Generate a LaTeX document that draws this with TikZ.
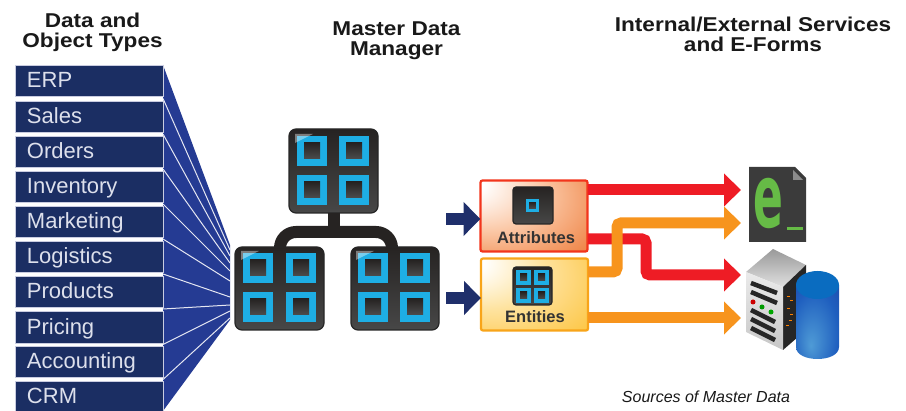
\documentclass[tikz,border=0pt]{standalone}
\usepackage{fontspec}
\setmainfont{Liberation Sans}
\newfontfamily\efont{DejaVu Sans}
\usetikzlibrary{arrows.meta}
\definecolor{rowblue}{HTML}{1B2E63}
\definecolor{fanblue}{HTML}{253B93}
\definecolor{rowtext}{HTML}{DDE0EC}
\definecolor{rowedge}{HTML}{C9CCE0}
\definecolor{tileblue}{HTML}{1EAEE4}
\definecolor{unitdark}{HTML}{262322}
\definecolor{navyarrow}{HTML}{1F2F6B}
\definecolor{redflow}{HTML}{EE1C25}
\definecolor{orangeflow}{HTML}{F7941D}
\definecolor{docgray}{HTML}{3B3B3B}
\definecolor{egreen}{HTML}{66BB46}
\definecolor{aone}{HTML}{FBC9A8}
\definecolor{atwo}{HTML}{F08A4E}
\definecolor{athree}{HTML}{E8531F}
\definecolor{eone}{HTML}{FEE3A0}
\definecolor{etwo}{HTML}{FDC94E}
\definecolor{ethree}{HTML}{FDB913}
\definecolor{cylone}{HTML}{4F9BD6}
\definecolor{cyltwo}{HTML}{1F5FBF}
\definecolor{cylthree}{HTML}{1C3A9A}
\definecolor{cyltop}{HTML}{0A6CC0}
\pgfdeclareradialshading{attrfill}{\pgfpoint{-36bp}{26bp}}{color(0bp)=(white); color(8bp)=(white); color(26bp)=(aone); color(46bp)=(atwo); color(68bp)=(athree)}
\pgfdeclareradialshading{entfill}{\pgfpoint{-36bp}{26bp}}{color(0bp)=(white); color(8bp)=(white); color(26bp)=(eone); color(46bp)=(etwo); color(68bp)=(ethree)}
\pgfdeclareradialshading{cylfill}{\pgfpoint{-8bp}{-14bp}}{color(0bp)=(cylone); color(28bp)=(cyltwo); color(55bp)=(cylthree)}
\tikzset{
  rowbox/.style={draw=rowedge,line width=0.8pt,fill=rowblue,text=rowtext,anchor=north west,
    minimum width=148pt,inner sep=0pt,outer sep=0pt,align=left,text width=124pt,
    font=\fontsize{22}{22}\selectfont,text height=15pt,text depth=0pt},
  fanline/.style={draw=white!88!fanblue,line width=1pt},
  heading/.style={font=\fontsize{20}{20}\selectfont\bfseries,align=center,text=black!90,inner sep=0pt},
  unit/.style={draw=black!85,line width=1.2pt,top color=unitdark,bottom color=black!72,rounded corners=7pt,inner sep=0pt,outer sep=0pt},
  tile/.style={fill=tileblue},
  tilecore/.style={top color=unitdark,bottom color=black!70},
  link/.style={draw=unitdark,line width=12pt},
  inarrow/.style={draw=navyarrow,line width=12pt,-{Triangle[length=17pt,width=33pt]}},
  redflowline/.style={draw=redflow,line width=11pt,rounded corners=4pt,-{Triangle[length=17pt,width=32pt]}},
  orangeflowline/.style={draw=orangeflow,line width=11pt,rounded corners=4pt,-{Triangle[length=17pt,width=32pt]}},
  attrbox/.style={draw=redflow!75!orange,line width=2.2pt,shading=attrfill,rounded corners=2pt,minimum width=107pt,minimum height=71pt,inner sep=0pt,outer sep=0pt},
  entbox/.style={draw=orangeflow!85!yellow,line width=2.2pt,shading=entfill,rounded corners=2pt,minimum width=107pt,minimum height=72pt,inner sep=0pt,outer sep=0pt},
  boxlabel/.style={font=\fontsize{16.5}{16.5}\selectfont\bfseries,text=black!80,inner sep=0pt},
  docbody/.style={fill=docgray},
  slot/.style={draw=black!85,line width=4.5pt},
}
\newcommand{\wideline}[1]{\scalebox{1.13}[1]{#1}}
% one blue tile with its dark centre; #1,#2 top-left corner, #3 size, #4 inset
\newcommand{\gridtile}[4]{%
  \fill[tile] (#1,#2) rectangle ++(#3,#3);
  \shade[tilecore] (#1+#4,#2+#4) rectangle (#1+#3-#4,#2+#3-#4);}
\newcommand{\gloss}[2]{\fill[white,opacity=.4] (#1,#2) -- ++(18,0) -- ++(-18,9) -- cycle;}
\begin{document}
\begin{tikzpicture}[x=1pt,y=-1pt]
\useasboundingbox (0,0) rectangle (906,411);
% titles
\node[heading] (t1) at (92.5,32) {\wideline{Data and}\\\wideline{Object Types}};
\node[heading] (t2) at (396.5,41) {\wideline{Master Data}\\\wideline{Manager}};
\node[heading] (t3) at (753,34) {\wideline{Internal/External Services}\\\wideline{and E-Forms}};
% fan
\fill[fanblue] (163,65) -- (230,245) -- (230,320) -- (163,411) -- cycle;
% rows
\node[rowbox,minimum height=31pt] (r1) at (15,65) {ERP};
\node[rowbox,minimum height=31pt] (r2) at (15,101) {Sales};
\node[rowbox,minimum height=31pt] (r3) at (15,136) {Orders};
\node[rowbox,minimum height=31pt] (r4) at (15,171) {Inventory};
\node[rowbox,minimum height=31pt] (r5) at (15,206) {Marketing};
\node[rowbox,minimum height=31pt] (r6) at (15,241) {Logistics};
\node[rowbox,minimum height=31pt] (r7) at (15,276) {Products};
\node[rowbox,minimum height=32pt] (r8) at (15,311) {Pricing};
\node[rowbox,minimum height=31pt] (r9) at (15,346) {Accounting};
\node[rowbox,minimum height=30pt] (r10) at (15,381) {CRM};
% fan separators
\foreach \ya/\yb [count=\i] in {98.5/250,134/256,169/263,204/271,239/281,274/297,309/305,344.5/311,379.5/318}{
  \coordinate (fa\i) at (163,\ya);
  \coordinate (fb\i) at (230,\yb);
  \draw[fanline] (fa\i) -- (fb\i);
}
% connector between units
\coordinate (lt) at (280,248);
\coordinate (rt) at (392,248);
\coordinate (bar) at (333.5,232);
\node[unit,minimum width=89pt,minimum height=84pt] (top) at (333.5,171) {};
\draw[link] (top.south) -- (bar);
\draw[link,rounded corners=16pt] (lt) |- (bar) -| (rt);
\node[unit,minimum width=89pt,minimum height=83pt] (left) at (279.5,288.5) {};
\node[unit,minimum width=88pt,minimum height=83pt] (right) at (395,288.5) {};
% tiles
\foreach \tx/\ty in {297/136,339/136,297/175,339/175,243/253,286/253,243/292,286/292,358/253,400/253,358/292,400/292}{
  \gridtile{\tx}{\ty}{30}{7}
}
\gloss{295}{134}\gloss{241}{251}\gloss{356}{251}
% attribute and entity boxes
\node[attrbox] (attr) at (534,216) {};
\node[entbox] (ent) at (534.5,294.5) {};
\node[unit,minimum width=40pt,minimum height=37pt,rounded corners=3pt] (attricon) at (533,205.5) {};
\gridtile{526}{199}{13}{3.2}
\node[unit,minimum width=39pt,minimum height=38pt,rounded corners=3pt] (enticon) at (532.5,286) {};
\foreach \tx/\ty in {516/270,534/270,516/288,534/288}{\gridtile{\tx}{\ty}{15}{4}}
\node[boxlabel] (attrtext) at (536,238) {Attributes};
\node[boxlabel] (enttext) at (535,317) {Entities};
% inbound arrows
\coordinate (in1) at (446,219);
\coordinate (in2) at (446,298);
\draw[inarrow] (in1) -- (attr.west |- in1);
\draw[inarrow] (in2) -- (ent.west |- in2);
% e-form document
\node[inner sep=0pt,outer sep=0pt,minimum width=57pt,minimum height=75pt] (doc) at (777.5,204.5) {};
\fill[docbody] (doc.north west) -- (795,167) -- (806,178) -- (doc.south east) -- (doc.south west) -- cycle;
\fill[black!45] (793,170) -- (803,180) -- (793,180) -- cycle;
\node[inner sep=0pt,text=egreen] (etext) at (768,203) {\scalebox{1}[2]{\efont\bfseries\fontsize{44}{44}\selectfont e}};
\fill[egreen] (787,227) rectangle (803,230);
% server
\shade[top color=black!40,bottom color=black!12] (746,272) -- (773,249) -- (806,265) -- (783,287) -- cycle;
\fill[black!85] (783,287) -- (806,265) -- (806,330) -- (783,350) -- cycle;
\shade[top color=black!8,bottom color=black!22] (746,272) -- (783,287) -- (783,350) -- (746,332) -- cycle;
\draw[slot] (751,283) -- (777,293);
\draw[slot] (751,292) -- (777,303);
\draw[slot] (751,310) -- (775,322);
\draw[slot] (751,319) -- (775,331);
\draw[slot] (751,328) -- (775,340);
\fill[red!80!black] (753,302) circle (2.5pt);
\fill[green!60!black] (762,307) circle (2.5pt);
\fill[green!65!black] (771,312) circle (2.5pt);
\foreach \a/\b in {787/296,790/300,787/308,790/314,786/325,789/320}{\fill[orange] (\a,\b) rectangle ++(3,1.2);}
% database cylinder
\shade[shading=cylfill]
  (796,285) -- (796,347) .. controls (796,363) and (839,363) .. (839,347) -- (839,285) -- cycle;
\fill[cyltop] (817.5,285) ellipse [x radius=21.5pt,y radius=14pt];
% outbound flows
\coordinate (a1) at (588,190);
\coordinate (a2) at (588,239);
\coordinate (e1) at (588,272);
\coordinate (e2) at (588,318);
\coordinate (d1) at (741,190);
\coordinate (d2) at (741,223);
\coordinate (d3) at (741,275);
\coordinate (d4) at (741,318);
\draw[redflowline] (a1) -- (d1);
\draw[redflowline] (a2) -- (646,239) -- (646,275) -- (d3);
\draw[orangeflowline] (e1) -- (617,272) -- (617,223) -- (d2);
\draw[orangeflowline] (e2) -- (d4);
% caption
\node[inner sep=0pt,font=\fontsize{16}{16}\selectfont\itshape,text=black!90] (cap) at (706,397) {Sources of Master Data};
\end{tikzpicture}
\end{document}
